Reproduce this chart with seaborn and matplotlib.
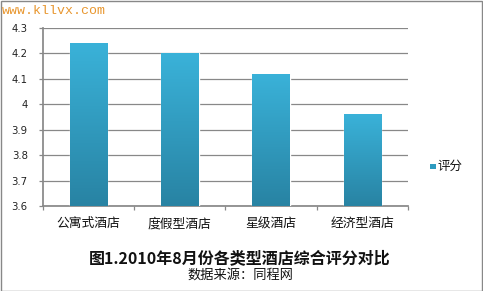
import matplotlib
matplotlib.use("Agg")
import matplotlib.pyplot as plt
import seaborn as sns
import numpy as np
import pandas as pd
from matplotlib.colors import LinearSegmentedColormap
from matplotlib.patches import Rectangle

categories = ["公寓式酒店", "度假型酒店", "星级酒店", "经济型酒店"]
scores = [4.24, 4.20, 4.12, 3.96]
yticks = [3.6, 3.7, 3.8, 3.9, 4.0, 4.1, 4.2, 4.3]
ytick_labels = ["3.6", "3.7", "3.8", "3.9", "4", "4.1", "4.2", "4.3"]
series_name = "评分"
title = "图1.2010年8月份各类型酒店综合评分对比"
subtitle = "数据来源：同程网"
watermark = "www.kllvx.com"

sns.set_theme(style="white")
plt.rcParams['font.family'] = ['Noto Sans CJK SC', 'DejaVu Sans']

df = pd.DataFrame({"cat": categories, "score": scores})

fig = plt.figure(figsize=(4.83, 2.91), dpi=100)
ax = fig.add_axes([43/483, 1-206/291, (408-43)/483, (206-28)/291])

sns.barplot(data=df, x="cat", y="score", ax=ax, color="#2E9BC0", width=0.41,
            saturation=1, zorder=3)

ax.set_ylim(3.6, 4.3)
ax.set_xlim(-0.5, 3.5)
ax.set_yticks(yticks)
ax.set_yticklabels(ytick_labels, fontsize=7.3, color="#222222", family="DejaVu Sans")
ax.set_xticks(range(len(categories)))
ax.set_xticklabels(categories, fontsize=9.2, color="#111111")
ax.set_xlabel("")
ax.set_ylabel("")
ax.grid(axis="y", color="#888888", linewidth=0.9, zorder=0)
for s in ["top", "right"]:
    ax.spines[s].set_visible(False)
ax.spines["left"].set_color("#888888")
ax.spines["bottom"].set_color("#888888")
ax.tick_params(axis="x", length=0, pad=8)
ax.tick_params(axis="y", length=3, width=0.9, color="#888888", direction="out", pad=8, left=True)
ax.set_xticks(np.arange(-0.5, 4.0, 1.0), minor=True)
ax.tick_params(axis="x", which="minor", length=3, width=0.9, color="#888888", bottom=True)

# gradient fill on bars
cmap = LinearSegmentedColormap.from_list("g", ["#2883A3", "#3AB2D9"])
grad = np.linspace(0, 1, 256).reshape(-1, 1)
for p in list(ax.patches):
    x0, y0 = p.get_x(), p.get_y()
    w, h = p.get_width(), p.get_height()
    im = ax.imshow(grad, extent=[x0, x0 + w, 3.6, y0 + h], origin="lower",
                   cmap=cmap, aspect="auto", zorder=4)
    im.set_clip_path(p)
ax.set_xlim(-0.5, 3.5)
ax.set_ylim(3.6, 4.3)

# legend
fig.patches.append(Rectangle((430/483, 1-169/291), 5.5/483, 5.5/291, transform=fig.transFigure,
                             facecolor="#2E9BC0", edgecolor="none"))
fig.text(437/483, 1-166/291, series_name, fontsize=9, va="center", ha="left", color="#111111")

cx = 0.5 * (43 + 437) / 483
fig.text(cx, 1-258/291, title, fontsize=11.5, fontweight="bold",
         ha="center", va="center", color="#111111")
fig.text(cx, 1-275/291, subtitle, fontsize=9.5,
         ha="center", va="center", color="#111111")
fig.text(2/483, 1-11/291, watermark, fontsize=9.5, family="Liberation Mono",
         color="#E8962E", ha="left", va="center")

fig.patches.append(Rectangle((0.5/483, 0.5/291), 1-1.5/483, 1-1.5/291, transform=fig.transFigure,
                             facecolor="none", edgecolor="#888888", linewidth=1))

fig.savefig("out.png", dpi=100)
